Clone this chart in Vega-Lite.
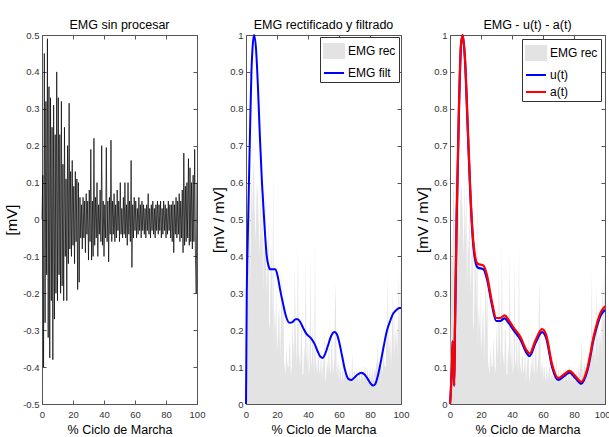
{
"$schema": "https://vega.github.io/schema/vega-lite/v6.json",
"padding": {"left": 4, "top": 18, "right": 0, "bottom": 0},
"background": "white",
"config": {
  "view": {"stroke": "#555", "strokeWidth": 1},
  "axis": {"domain": false, "grid": false, "tickSize": -4, "tickColor": "#555", "tickWidth": 1,
    "labelFont": "Liberation Sans", "labelFontSize": 9.5, "labelColor": "#333",
    "labelFlush": false, "labelOverlap": false,
    "titleFont": "Liberation Sans", "titleFontSize": 12.5, "titleFontWeight": "normal", "titleColor": "#000"},
  "axisX": {"labelPadding": 9, "titlePadding": 5},
  "axisY": {"labelPadding": 7, "titleFontSize": 15, "titlePadding": 3},
  "title": {"font": "Liberation Sans", "fontSize": 12.5, "fontWeight": "normal", "color": "#000", "offset": -1},
  "legend": {"labelFont": "Liberation Sans", "labelFontSize": 12, "labelColor": "#000",
    "strokeColor": "#333", "fillColor": "white", "padding": 3, "symbolSize": 400, "labelOffset": 3, "rowPadding": 0, "orient": "top-right", "title": null,
    "symbolStrokeWidth": 2, "symbolOpacity": 1}
},
"datasets": {
"emg": [
{"x":0,"raw":0,"rec":0.05},{"x":0.5,"raw":0.12,"rec":0.24},{"x":1,"raw":-0.4,"rec":0.47},{"x":1.5,"raw":0.45,"rec":0.35},{"x":2,"raw":-0.28,"rec":0.56},{"x":2.5,"raw":0.32,"rec":0.64},{"x":3,"raw":-0.15,"rec":0.3},{"x":3.5,"raw":0.49,"rec":0.67},{"x":4,"raw":-0.32,"rec":0.5},{"x":4.5,"raw":0.36,"rec":0.62},
{"x":5,"raw":-0.375,"rec":0.66},{"x":5.5,"raw":0.33,"rec":0.55},{"x":6,"raw":-0.22,"rec":0.44},{"x":6.5,"raw":0.25,"rec":0.5},{"x":7,"raw":-0.38,"rec":0.6},{"x":7.5,"raw":0.31,"rec":0.58},{"x":8,"raw":-0.27,"rec":0.52},{"x":8.5,"raw":0.23,"rec":0.46},{"x":9,"raw":-0.2,"rec":0.4},{"x":9.5,"raw":0.4,"rec":0.62},
{"x":10,"raw":-0.22,"rec":0.44},{"x":10.5,"raw":0.33,"rec":0.6},{"x":11,"raw":-0.15,"rec":0.3},{"x":11.5,"raw":0.23,"rec":0.46},{"x":12,"raw":-0.2,"rec":0.4},{"x":12.5,"raw":0.32,"rec":0.6},{"x":13,"raw":-0.18,"rec":0.36},{"x":13.5,"raw":0.15,"rec":0.3},{"x":14,"raw":-0.22,"rec":0.44},{"x":14.5,"raw":0.25,"rec":0.5},
{"x":15,"raw":-0.1,"rec":0.2},{"x":15.5,"raw":0.11,"rec":0.22},{"x":16,"raw":-0.22,"rec":0.44},{"x":16.5,"raw":0.2,"rec":0.4},{"x":17,"raw":-0.12,"rec":0.24},{"x":17.5,"raw":0.315,"rec":0.645},{"x":18,"raw":-0.08,"rec":0.16},{"x":18.5,"raw":0.13,"rec":0.26},{"x":19,"raw":-0.1,"rec":0.2},{"x":19.5,"raw":0.16,"rec":0.32},
{"x":20,"raw":-0.07,"rec":0.14},{"x":20.5,"raw":0.09,"rec":0.18},{"x":21,"raw":-0.12,"rec":0.24},{"x":21.5,"raw":0.13,"rec":0.26},{"x":22,"raw":-0.06,"rec":0.12},{"x":22.5,"raw":0.11,"rec":0.22},{"x":23,"raw":-0.19,"rec":0.38},{"x":23.5,"raw":0.1,"rec":0.2},{"x":24,"raw":-0.17,"rec":0.34},{"x":24.5,"raw":0.06,"rec":0.12},
{"x":25,"raw":-0.05,"rec":0.1},{"x":25.5,"raw":0.04,"rec":0.08},{"x":26,"raw":-0.08,"rec":0.16},{"x":26.5,"raw":0.06,"rec":0.12},{"x":27,"raw":-0.05,"rec":0.1},{"x":27.5,"raw":0.05,"rec":0.1},{"x":28,"raw":-0.09,"rec":0.18},{"x":28.5,"raw":0.07,"rec":0.14},{"x":29,"raw":-0.04,"rec":0.08},{"x":29.5,"raw":0.05,"rec":0.1},
{"x":30,"raw":-0.11,"rec":0.22},{"x":30.5,"raw":0.08,"rec":0.16},{"x":31,"raw":-0.06,"rec":0.12},{"x":31.5,"raw":0.19,"rec":0.38},{"x":32,"raw":-0.11,"rec":0.22},{"x":32.5,"raw":0.05,"rec":0.1},{"x":33,"raw":-0.1,"rec":0.2},{"x":33.5,"raw":0.22,"rec":0.44},{"x":34,"raw":-0.07,"rec":0.14},{"x":34.5,"raw":0.06,"rec":0.12},
{"x":35,"raw":-0.05,"rec":0.1},{"x":35.5,"raw":0.1,"rec":0.2},{"x":36,"raw":-0.1,"rec":0.2},{"x":36.5,"raw":0.04,"rec":0.08},{"x":37,"raw":-0.04,"rec":0.08},{"x":37.5,"raw":0.08,"rec":0.16},{"x":38,"raw":-0.06,"rec":0.12},{"x":38.5,"raw":0.2,"rec":0.42},{"x":39,"raw":-0.07,"rec":0.14},{"x":39.5,"raw":0.05,"rec":0.1},
{"x":40,"raw":-0.1,"rec":0.2},{"x":40.5,"raw":0.04,"rec":0.08},{"x":41,"raw":-0.05,"rec":0.1},{"x":41.5,"raw":0.195,"rec":0.4},{"x":42,"raw":-0.06,"rec":0.12},{"x":42.5,"raw":0.05,"rec":0.1},{"x":43,"raw":-0.115,"rec":0.23},{"x":43.5,"raw":0.06,"rec":0.12},{"x":44,"raw":-0.04,"rec":0.08},{"x":44.5,"raw":0.215,"rec":0.44},
{"x":45,"raw":-0.06,"rec":0.12},{"x":45.5,"raw":0.05,"rec":0.1},{"x":46,"raw":-0.04,"rec":0.08},{"x":46.5,"raw":0.07,"rec":0.14},{"x":47,"raw":-0.06,"rec":0.12},{"x":47.5,"raw":0.04,"rec":0.08},{"x":48,"raw":-0.05,"rec":0.1},{"x":48.5,"raw":0.08,"rec":0.16},{"x":49,"raw":-0.03,"rec":0.06},{"x":49.5,"raw":0.05,"rec":0.1},
{"x":50,"raw":-0.06,"rec":0.12},{"x":50.5,"raw":0.1,"rec":0.2},{"x":51,"raw":-0.04,"rec":0.08},{"x":51.5,"raw":0.03,"rec":0.06},{"x":52,"raw":-0.05,"rec":0.1},{"x":52.5,"raw":0.06,"rec":0.12},{"x":53,"raw":-0.04,"rec":0.08},{"x":53.5,"raw":0.1,"rec":0.2},{"x":54,"raw":-0.05,"rec":0.1},{"x":54.5,"raw":0.04,"rec":0.08},
{"x":55,"raw":-0.07,"rec":0.14},{"x":55.5,"raw":0.1,"rec":0.2},{"x":56,"raw":-0.04,"rec":0.08},{"x":56.5,"raw":0.05,"rec":0.1},{"x":57,"raw":-0.06,"rec":0.12},{"x":57.5,"raw":0.16,"rec":0.33},{"x":58,"raw":-0.13,"rec":0.26},{"x":58.5,"raw":0.04,"rec":0.08},{"x":59,"raw":-0.05,"rec":0.1},{"x":59.5,"raw":0.06,"rec":0.12},
{"x":60,"raw":-0.03,"rec":0.06},{"x":60.5,"raw":0.05,"rec":0.1},{"x":61,"raw":-0.05,"rec":0.1},{"x":61.5,"raw":0.03,"rec":0.06},{"x":62,"raw":-0.04,"rec":0.08},{"x":62.5,"raw":0.06,"rec":0.12},{"x":63,"raw":-0.03,"rec":0.06},{"x":63.5,"raw":0.04,"rec":0.08},{"x":64,"raw":-0.05,"rec":0.1},{"x":64.5,"raw":0.05,"rec":0.1},
{"x":65,"raw":-0.03,"rec":0.06},{"x":65.5,"raw":0.04,"rec":0.08},{"x":66,"raw":-0.04,"rec":0.08},{"x":66.5,"raw":0.03,"rec":0.06},{"x":67,"raw":-0.05,"rec":0.1},{"x":67.5,"raw":0.04,"rec":0.08},{"x":68,"raw":-0.03,"rec":0.06},{"x":68.5,"raw":0.07,"rec":0.14},{"x":69,"raw":-0.04,"rec":0.08},{"x":69.5,"raw":0.03,"rec":0.06},
{"x":70,"raw":-0.05,"rec":0.1},{"x":70.5,"raw":0.04,"rec":0.08},{"x":71,"raw":-0.03,"rec":0.06},{"x":71.5,"raw":0.05,"rec":0.1},{"x":72,"raw":-0.04,"rec":0.08},{"x":72.5,"raw":0.03,"rec":0.06},{"x":73,"raw":-0.05,"rec":0.1},{"x":73.5,"raw":0.04,"rec":0.08},{"x":74,"raw":-0.03,"rec":0.06},{"x":74.5,"raw":0.05,"rec":0.1},
{"x":75,"raw":-0.04,"rec":0.08},{"x":75.5,"raw":0.04,"rec":0.08},{"x":76,"raw":-0.03,"rec":0.06},{"x":76.5,"raw":0.05,"rec":0.1},{"x":77,"raw":-0.05,"rec":0.1},{"x":77.5,"raw":0.03,"rec":0.06},{"x":78,"raw":-0.04,"rec":0.08},{"x":78.5,"raw":0.05,"rec":0.1},{"x":79,"raw":-0.03,"rec":0.06},{"x":79.5,"raw":0.04,"rec":0.08},
{"x":80,"raw":-0.05,"rec":0.1},{"x":80.5,"raw":0.03,"rec":0.06},{"x":81,"raw":-0.04,"rec":0.08},{"x":81.5,"raw":0.05,"rec":0.1},{"x":82,"raw":-0.03,"rec":0.06},{"x":82.5,"raw":0.04,"rec":0.08},{"x":83,"raw":-0.05,"rec":0.1},{"x":83.5,"raw":0.04,"rec":0.08},{"x":84,"raw":-0.06,"rec":0.12},{"x":84.5,"raw":0.05,"rec":0.1},
{"x":85,"raw":-0.09,"rec":0.18},{"x":85.5,"raw":0.04,"rec":0.08},{"x":86,"raw":-0.04,"rec":0.08},{"x":86.5,"raw":0.06,"rec":0.12},{"x":87,"raw":-0.05,"rec":0.1},{"x":87.5,"raw":0.05,"rec":0.1},{"x":88,"raw":-0.04,"rec":0.08},{"x":88.5,"raw":0.07,"rec":0.14},{"x":89,"raw":-0.06,"rec":0.12},{"x":89.5,"raw":0.05,"rec":0.1},
{"x":90,"raw":-0.05,"rec":0.1},{"x":90.5,"raw":0.08,"rec":0.16},{"x":91,"raw":-0.09,"rec":0.18},{"x":91.5,"raw":0.18,"rec":0.36},{"x":92,"raw":-0.07,"rec":0.14},{"x":92.5,"raw":0.09,"rec":0.18},{"x":93,"raw":-0.06,"rec":0.12},{"x":93.5,"raw":0.1,"rec":0.2},{"x":94,"raw":-0.05,"rec":0.1},{"x":94.5,"raw":0.165,"rec":0.33},
{"x":95,"raw":-0.07,"rec":0.14},{"x":95.5,"raw":0.14,"rec":0.28},{"x":96,"raw":-0.06,"rec":0.12},{"x":96.5,"raw":0.1,"rec":0.2},{"x":97,"raw":-0.08,"rec":0.16},{"x":97.5,"raw":0.12,"rec":0.24},{"x":98,"raw":-0.06,"rec":0.12},{"x":98.5,"raw":0.19,"rec":0.36},{"x":99,"raw":-0.1,"rec":0.2},{"x":99.5,"raw":-0.2,"rec":0.4},
{"x":100,"raw":0.1,"rec":0.2}
],
"filt": [
{"x":0,"y":0},{"x":0.5,"y":0.3},{"x":1,"y":0.42},{"x":2,"y":0.62},{"x":2.5,"y":0.72},{"x":3.5,"y":0.9},{"x":4.3,"y":0.97},{"x":5.2,"y":1.0},{"x":6.5,"y":0.96},{"x":7.8,"y":0.85},
{"x":9,"y":0.72},{"x":10.3,"y":0.6},{"x":11.7,"y":0.5},{"x":13.4,"y":0.4},{"x":14.5,"y":0.375},{"x":15.5,"y":0.365},{"x":19,"y":0.365},{"x":20.5,"y":0.345},{"x":22,"y":0.31},{"x":24,"y":0.27},
{"x":26,"y":0.235},{"x":28,"y":0.22},{"x":30,"y":0.222},{"x":32,"y":0.23},{"x":33.5,"y":0.23},{"x":35,"y":0.222},{"x":37,"y":0.205},{"x":39,"y":0.19},{"x":42,"y":0.178},{"x":44,"y":0.165},
{"x":46,"y":0.145},{"x":48,"y":0.128},{"x":49.5,"y":0.125},{"x":51,"y":0.135},{"x":53,"y":0.16},{"x":55,"y":0.185},{"x":57,"y":0.195},{"x":58.5,"y":0.19},{"x":60,"y":0.17},{"x":62,"y":0.13},
{"x":64,"y":0.09},{"x":66,"y":0.068},{"x":68,"y":0.065},{"x":70,"y":0.072},{"x":72,"y":0.08},{"x":74.5,"y":0.085},{"x":76.5,"y":0.08},{"x":78.5,"y":0.068},{"x":80.5,"y":0.055},{"x":82,"y":0.05},
{"x":83.5,"y":0.055},{"x":85,"y":0.075},{"x":87,"y":0.115},{"x":89,"y":0.16},{"x":91,"y":0.2},{"x":93,"y":0.225},{"x":95,"y":0.245},{"x":97,"y":0.255},{"x":99,"y":0.26},{"x":100,"y":0.26}
],
"act": [
{"x":0,"u(t)":0,"a(t)":0},{"x":0.6,"u(t)":0.04,"a(t)":0.04},{"x":1.2,"u(t)":0.1,"a(t)":0.1},{"x":1.7,"u(t)":0.17,"a(t)":0.17},{"x":2.2,"u(t)":0.12,"a(t)":0.12},{"x":2.7,"u(t)":0.05,"a(t)":0.05},{"x":3.2,"u(t)":0.2,"a(t)":0.21},{"x":4.3,"u(t)":0.5,"a(t)":0.51},{"x":5.8,"u(t)":0.8,"a(t)":0.81},{"x":7.1,"u(t)":0.97,"a(t)":0.975},
{"x":8.2,"u(t)":1.0,"a(t)":1.0},{"x":9.7,"u(t)":0.93,"a(t)":0.935},{"x":11.4,"u(t)":0.75,"a(t)":0.76},{"x":13,"u(t)":0.58,"a(t)":0.59},{"x":14.5,"u(t)":0.46,"a(t)":0.47},{"x":16.2,"u(t)":0.39,"a(t)":0.4},{"x":17.9,"u(t)":0.37,"a(t)":0.38},{"x":21.6,"u(t)":0.365,"a(t)":0.375},{"x":23.8,"u(t)":0.34,"a(t)":0.35},{"x":27,"u(t)":0.27,"a(t)":0.278},
{"x":29.8,"u(t)":0.225,"a(t)":0.233},{"x":32.4,"u(t)":0.225,"a(t)":0.233},{"x":35.2,"u(t)":0.232,"a(t)":0.24},{"x":37.8,"u(t)":0.22,"a(t)":0.228},{"x":41,"u(t)":0.2,"a(t)":0.207},{"x":45.4,"u(t)":0.175,"a(t)":0.182},{"x":49.2,"u(t)":0.14,"a(t)":0.147},{"x":51.4,"u(t)":0.13,"a(t)":0.137},{"x":55.1,"u(t)":0.165,"a(t)":0.172},{"x":59.4,"u(t)":0.195,"a(t)":0.203},
{"x":62,"u(t)":0.18,"a(t)":0.188},{"x":65.9,"u(t)":0.1,"a(t)":0.107},{"x":69.8,"u(t)":0.065,"a(t)":0.07},{"x":73.4,"u(t)":0.075,"a(t)":0.08},{"x":77.1,"u(t)":0.085,"a(t)":0.09},{"x":81,"u(t)":0.07,"a(t)":0.075},{"x":84.7,"u(t)":0.055,"a(t)":0.06},{"x":88.6,"u(t)":0.09,"a(t)":0.096},{"x":92.9,"u(t)":0.18,"a(t)":0.187},{"x":97.2,"u(t)":0.24,"a(t)":0.248},
{"x":100,"u(t)":0.255,"a(t)":0.265}
]
},
"spacing": 49,
"bounds": "flush",
"resolve": {"scale": {"x": "independent", "y": "independent", "color": "independent"}},
"hconcat": [
{
  "width": 155, "height": 369,
  "title": "EMG sin procesar",
  "data": {"name": "emg"},
  "layer": [
    {"mark": {"type": "line", "color": "#000", "strokeWidth": 0.7},
     "encoding": {
       "x": {"field": "x", "type": "quantitative", "scale": {"domain": [0, 100], "nice": false, "zero": false},
             "axis": {"values": [0, 20, 40, 60, 80, 100], "title": "% Ciclo de Marcha"}},
       "y": {"field": "raw", "type": "quantitative", "scale": {"domain": [-0.5, 0.5], "nice": false},
             "axis": {"values": [-0.5, -0.4, -0.3, -0.2, -0.1, 0, 0.1, 0.2, 0.3, 0.4, 0.5], "title": "[mV]",
                      "labelExpr": "datum.value < 0 ? '-' + format(-datum.value, '.1~f') : format(datum.value, '.1~f')"}}
     }},
    {"mark": {"type": "line", "opacity": 0},
     "encoding": {
       "x": {"field": "x", "type": "quantitative", "axis": {"orient": "top", "labels": false, "title": null, "values": [0, 20, 40, 60, 80, 100]}},
       "y": {"field": "raw", "type": "quantitative", "axis": {"orient": "right", "labels": false, "title": null, "values": [-0.5, -0.4, -0.3, -0.2, -0.1, 0, 0.1, 0.2, 0.3, 0.4, 0.5]}}
     }}
  ],
  "resolve": {"axis": {"x": "independent", "y": "independent"}}
},
{
  "width": 155, "height": 369,
  "title": "EMG rectificado y filtrado",
  "layer": [
    {"data": {"name": "emg"},
     "mark": {"type": "area", "opacity": 1, "interpolate": "linear"},
     "encoding": {
       "x": {"field": "x", "type": "quantitative", "scale": {"domain": [0, 100], "nice": false},
             "axis": {"values": [0, 20, 40, 60, 80, 100], "title": "% Ciclo de Marcha"}},
       "y": {"field": "rec", "type": "quantitative", "scale": {"domain": [0, 1], "nice": false},
             "axis": {"values": [0, 0.1, 0.2, 0.3, 0.4, 0.5, 0.6, 0.7, 0.8, 0.9, 1], "title": "[mV / mV]", "labelExpr": "format(datum.value, '.1~f')"}},
       "color": {"datum": "EMG rec", "type": "nominal",
         "scale": {"domain": ["EMG rec", "EMG filt"], "range": ["#e3e3e3", "#0000ff"]},
         "legend": {"orient": "top-right", "offset": 2,
           "symbolType": {"expr": "datum.value === 'EMG rec' ? 'M-1,-0.7L1,-0.7L1,0.7L-1,0.7Z' : 'stroke'"},
           "symbolStrokeColor": {"expr": "datum.value === 'EMG rec' ? '#e3e3e3' : '#0000ff'"},
           "symbolFillColor": {"expr": "datum.value === 'EMG rec' ? '#e3e3e3' : 'transparent'"}}}
     }},
    {"data": {"name": "filt"},
     "mark": {"type": "line", "strokeWidth": 2, "interpolate": "monotone"},
     "encoding": {
       "x": {"field": "x", "type": "quantitative", "axis": {"orient": "top", "labels": false, "title": null, "values": [0, 20, 40, 60, 80, 100]}},
       "y": {"field": "y", "type": "quantitative", "axis": {"orient": "right", "labels": false, "title": null, "values": [0, 0.1, 0.2, 0.3, 0.4, 0.5, 0.6, 0.7, 0.8, 0.9, 1]}},
       "color": {"datum": "EMG filt", "type": "nominal"}
     }}
  ],
  "resolve": {"axis": {"x": "independent", "y": "independent"}}
},
{
  "width": 155, "height": 369,
  "title": "EMG - u(t) - a(t)",
  "layer": [
    {"data": {"name": "emg"},
     "mark": {"type": "area", "opacity": 1, "interpolate": "linear"},
     "encoding": {
       "x": {"field": "x", "type": "quantitative", "scale": {"domain": [0, 100], "nice": false},
             "axis": {"values": [0, 20, 40, 60, 80, 100], "title": "% Ciclo de Marcha",
                      "labelAlign": {"condition": {"test": "datum.value === 100", "value": "right"}, "value": "center"},
                      "labelOffset": {"condition": {"test": "datum.value === 100", "value": 5}, "value": 0}}},
       "y": {"field": "rec", "type": "quantitative", "scale": {"domain": [0, 1], "nice": false},
             "axis": {"values": [0, 0.1, 0.2, 0.3, 0.4, 0.5, 0.6, 0.7, 0.8, 0.9, 1], "title": "[mV / mV]", "labelExpr": "format(datum.value, '.1~f')"}},
       "color": {"datum": "EMG rec", "type": "nominal",
         "scale": {"domain": ["EMG rec", "u(t)", "a(t)"], "range": ["#e3e3e3", "#0000ff", "#ff0000"]},
         "legend": {"orient": "top-right", "offset": 4,
           "symbolType": {"expr": "datum.value === 'EMG rec' ? 'M-1,-0.7L1,-0.7L1,0.7L-1,0.7Z' : 'stroke'"},
           "symbolStrokeColor": {"expr": "datum.value === 'EMG rec' ? '#e3e3e3' : datum.value === 'a(t)' ? '#ff0000' : '#0000ff'"},
           "symbolFillColor": {"expr": "datum.value === 'EMG rec' ? '#e3e3e3' : 'transparent'"}}}
     }},
    {"data": {"name": "act"},
     "transform": [{"fold": ["u(t)", "a(t)"], "as": ["serie", "v"]}],
     "mark": {"type": "line", "strokeWidth": 2.2, "interpolate": "monotone"},
     "encoding": {
       "x": {"field": "x", "type": "quantitative", "axis": {"orient": "top", "labels": false, "title": null, "values": [0, 20, 40, 60, 80, 100]}},
       "y": {"field": "v", "type": "quantitative", "axis": {"orient": "right", "labels": false, "title": null, "values": [0, 0.1, 0.2, 0.3, 0.4, 0.5, 0.6, 0.7, 0.8, 0.9, 1]}},
       "color": {"field": "serie", "type": "nominal"}
     }}
  ],
  "resolve": {"axis": {"x": "independent", "y": "independent"}}
}
]
}
